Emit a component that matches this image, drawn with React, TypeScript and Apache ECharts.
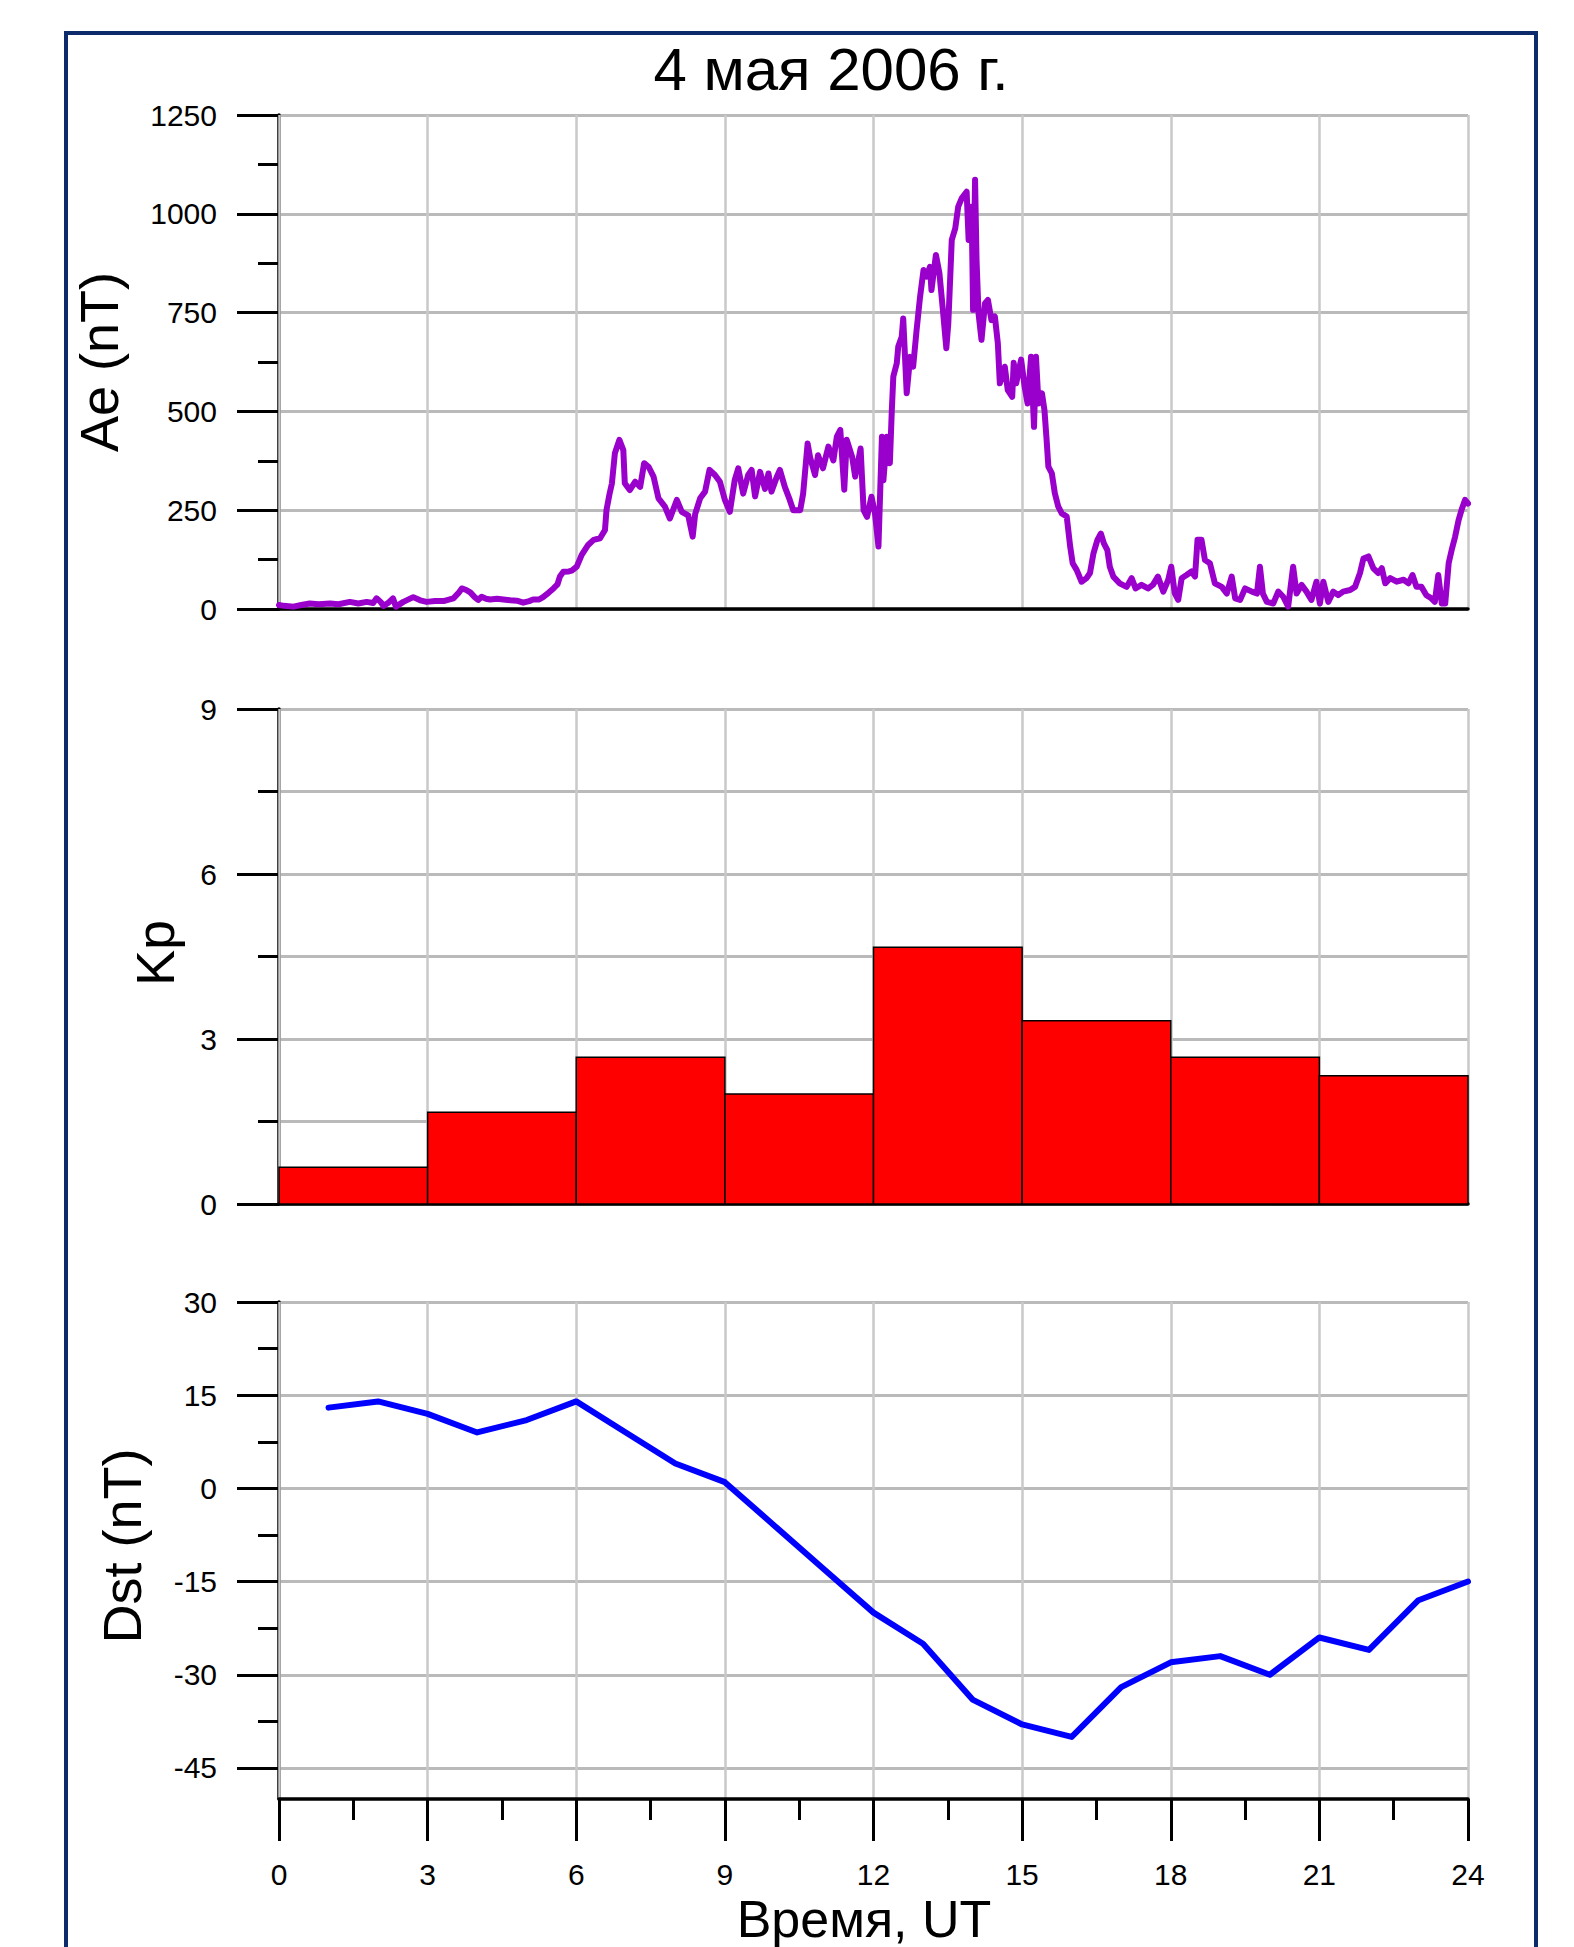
import React, { useEffect, useRef } from "react";
import * as echarts from "echarts";

const TITLE = "4 мая 2006 г.";
const X_NAME = "Время, UT";
const AE_NAME = "Ae (nT)";
const KP_NAME = "Kp";
const DST_NAME = "Dst (nT)";

// Ae index (nT)
const AE_HOURS = [
  0.0, 0.1, 0.29, 0.45, 0.62, 0.8, 1.03, 1.2, 1.43, 1.6, 1.77, 1.9, 1.97, 2.05, 2.11, 2.2, 2.3, 2.36, 2.51, 2.71,
  2.85, 2.98, 3.15, 3.32, 3.52, 3.62, 3.69, 3.78, 3.86, 3.95, 4.02, 4.09, 4.18, 4.26, 4.4, 4.53, 4.67, 4.8, 4.93, 5.05,
  5.13, 5.25, 5.33, 5.44, 5.54, 5.62, 5.67, 5.74, 5.85, 5.91, 6.01, 6.11, 6.24, 6.35, 6.48, 6.58, 6.61, 6.67, 6.72, 6.78,
  6.87, 6.95, 6.98, 7.08, 7.19, 7.29, 7.37, 7.46, 7.56, 7.66, 7.79, 7.89, 8.03, 8.13, 8.26, 8.35, 8.4, 8.5, 8.6, 8.69,
  8.8, 8.9, 9.0, 9.1, 9.2, 9.27, 9.37, 9.47, 9.54, 9.61, 9.71, 9.81, 9.88, 9.94, 10.05, 10.11, 10.21, 10.31, 10.38, 10.52,
  10.58, 10.67, 10.72, 10.82, 10.88, 10.98, 11.09, 11.19, 11.26, 11.33, 11.41, 11.46, 11.57, 11.63, 11.74, 11.8, 11.87, 11.96, 12.03, 12.1,
  12.17, 12.2, 12.27, 12.33, 12.37, 12.4, 12.47, 12.5, 12.57, 12.6, 12.67, 12.74, 12.8, 12.87, 12.94, 13.01, 13.07, 13.14, 13.17, 13.26,
  13.33, 13.4, 13.47, 13.51, 13.58, 13.65, 13.71, 13.78, 13.88, 13.92, 13.98, 14.01, 14.05, 14.08, 14.12, 14.18, 14.25, 14.31, 14.38, 14.45,
  14.51, 14.55, 14.65, 14.71, 14.8, 14.83, 14.88, 14.98, 15.05, 15.11, 15.18, 15.24, 15.28, 15.33, 15.4, 15.45, 15.49, 15.53, 15.6, 15.66,
  15.73, 15.8, 15.9, 15.97, 16.02, 16.1, 16.2, 16.3, 16.37, 16.44, 16.52, 16.59, 16.65, 16.72, 16.77, 16.84, 16.97, 17.11, 17.21, 17.29,
  17.41, 17.54, 17.64, 17.74, 17.85, 17.95, 18.01, 18.08, 18.15, 18.22, 18.32, 18.42, 18.49, 18.54, 18.62, 18.69, 18.79, 18.89, 19.03, 19.13,
  19.23, 19.3, 19.4, 19.5, 19.64, 19.74, 19.8, 19.86, 19.94, 20.07, 20.17, 20.27, 20.37, 20.47, 20.54, 20.64, 20.74, 20.84, 20.94, 21.01,
  21.08, 21.18, 21.28, 21.38, 21.48, 21.62, 21.72, 21.82, 21.89, 21.99, 22.09, 22.19, 22.26, 22.33, 22.43, 22.56, 22.7, 22.8, 22.88, 22.96,
  23.06, 23.16, 23.26, 23.33, 23.4, 23.47, 23.54, 23.61, 23.67, 23.74, 23.81, 23.87, 23.94, 24.0,
];
const AE_NT = [
  10, 8, 6, 10, 14, 12, 14, 12, 18, 14, 18, 15, 27, 18, 8, 15, 27, 6, 18, 30,
  22, 18, 20, 20, 27, 40, 52, 48, 42, 30, 23, 31, 26, 24, 26, 24, 22, 21, 16, 20,
  24, 24, 30, 41, 52, 62, 82, 94, 95, 97, 107, 137, 162, 175, 179, 200, 250, 290, 318, 394,
  428, 402, 318, 301, 322, 309, 369, 360, 335, 280, 259, 229, 276, 246, 237, 183, 240, 280, 297, 352,
  339, 322, 276, 246, 327, 356, 292, 339, 352, 285, 347, 304, 343, 297, 335, 352, 309, 276, 250, 250,
  292, 419, 384, 339, 389, 356, 411, 376, 436, 453, 302, 428, 384, 335, 406, 250, 233, 284, 242, 158,
  436, 326, 436, 369, 504, 588, 622, 664, 689, 735, 546, 638, 613, 706, 790, 858, 841, 866, 807, 896,
  850, 757, 660, 723, 934, 963, 1018, 1039, 1056, 934, 1018, 757, 1086, 883, 748, 681, 773, 782, 731, 740,
  672, 571, 613, 554, 537, 623, 571, 631, 563, 520, 638, 461, 638, 520, 546, 504, 436, 360, 343, 293,
  259, 242, 234, 158, 116, 99, 69, 78, 91, 141, 175, 191, 166, 149, 107, 82, 65, 56, 78, 52,
  61, 52, 61, 82, 44, 74, 107, 40, 23, 78, 86, 95, 82, 175, 175, 124, 116, 65, 56, 39,
  82, 27, 23, 52, 44, 39, 107, 39, 18, 14, 44, 31, 6, 107, 39, 61, 44, 23, 69, 14,
  69, 18, 44, 35, 44, 48, 56, 91, 128, 133, 103, 91, 103, 65, 78, 69, 74, 65, 86, 56,
  56, 35, 27, 18, 86, 14, 14, 116, 149, 183, 225, 251, 276, 267,
];

// Kp index, 3-hour intervals
const KP_START = [0, 3, 6, 9, 12, 15, 18, 21];
const KP_END = [3, 6, 9, 12, 15, 18, 21, 24];
const KP_VALUES = [0.67, 1.67, 2.67, 2.0, 4.67, 3.33, 2.67, 2.33];

// Dst index (nT), hourly
const DST_HOURS = [1, 2, 3, 4, 5, 6, 7, 8, 9, 10, 11, 12, 13, 14, 15, 16, 17, 18, 19, 20, 21, 22, 23, 24];
const DST_NT = [13, 14, 12, 9, 11, 14, 9, 4, 1, -6, -13, -20, -25, -34, -38, -40, -32, -28, -27, -30, -24, -26, -18, -15];

const DST_MAJOR_TICKS = [-45, -30, -15, 0, 15, 30];
const DST_MINOR_TICKS = [-37.5, -22.5, -7.5, 7.5, 22.5];

const FONT = '"Liberation Sans", Arial, Helvetica, sans-serif';

export default function App() {
  const ref = useRef<HTMLDivElement>(null);

  useEffect(() => {
    document.body.style.margin = "0";
    const chart = echarts.init(ref.current as HTMLDivElement, null, { renderer: "svg" });

    const axisLine = { show: true, onZero: false, lineStyle: { color: "#000", width: 3.5 } };
    const tickStyle = { color: "#000", width: 3 };
    const hGrid = { show: true, lineStyle: { color: "#bababa", width: 3 } };
    const vGrid = { show: true, lineStyle: { color: "#c9c9c9", width: 2.5 } };
    const plain = (v: number) => String(v);
    const labelStyle = { color: "#000", fontSize: 30, fontFamily: FONT, formatter: plain };

    const grids = [
      { left: 279, top: 115, width: 1189, height: 494 },
      { left: 279, top: 709, width: 1189, height: 495 },
      { left: 279, top: 1302, width: 1189, height: 497 },
    ];

    const xAxes = [0, 1, 2].map((i) => ({
      type: "value",
      gridIndex: i,
      min: 0,
      max: 24,
      interval: 3,
      axisLine,
      axisTick: { show: i === 2, length: 42, lineStyle: tickStyle },
      minorTick: { show: i === 2, splitNumber: 2, length: 21, lineStyle: tickStyle },
      axisLabel: { show: i === 2, margin: 60, ...labelStyle },
      splitLine: vGrid,
      z: 1,
    }));

    const yAxes: any[] = [
      {
        type: "value",
        gridIndex: 0,
        min: 0,
        max: 1250,
        interval: 250,
        axisLine,
        axisTick: { show: true, length: 42, lineStyle: tickStyle },
        minorTick: { show: true, splitNumber: 2, length: 21, lineStyle: tickStyle },
        axisLabel: { margin: 62, ...labelStyle },
        splitLine: hGrid,
      },
      {
        type: "value",
        gridIndex: 1,
        min: 0,
        max: 9,
        interval: 3,
        axisLine,
        axisTick: { show: true, length: 42, lineStyle: tickStyle },
        minorTick: { show: true, splitNumber: 2, length: 21, lineStyle: tickStyle },
        axisLabel: { margin: 62, ...labelStyle },
        splitLine: hGrid,
        minorSplitLine: { show: true, lineStyle: { color: "#bababa", width: 3 } },
      },
      {
        type: "value",
        gridIndex: 2,
        min: -50,
        max: 30,
        axisLine,
        axisTick: { show: true, length: 42, lineStyle: tickStyle, customValues: DST_MAJOR_TICKS },
        axisLabel: { margin: 62, ...labelStyle, customValues: DST_MAJOR_TICKS },
        splitLine: hGrid,
      },
      {
        type: "value",
        gridIndex: 2,
        min: -50,
        max: 30,
        position: "left",
        axisLine: { show: false },
        axisTick: { show: true, length: 21, lineStyle: tickStyle, customValues: DST_MINOR_TICKS },
        axisLabel: { show: false, customValues: DST_MINOR_TICKS },
        splitLine: { show: false },
      },
    ];

    const option: any = {
      animation: false,
      backgroundColor: "#fff",
      textStyle: { fontFamily: FONT },
      grid: grids,
      xAxis: xAxes,
      yAxis: yAxes,
      series: [
        {
          type: "line",
          xAxisIndex: 0,
          yAxisIndex: 0,
          data: AE_HOURS.map((t, i) => [t, AE_NT[i]]),
          showSymbol: false,
          lineStyle: { color: "#9900cc", width: 6, join: "round", cap: "round" },
          z: 5,
        },
        {
          type: "custom",
          xAxisIndex: 1,
          yAxisIndex: 1,
          data: KP_START.map((s, i) => [s, KP_END[i], KP_VALUES[i]]),
          encode: { x: [0, 1], y: 2 },
          renderItem: (params: any, api: any) => {
            const p0 = api.coord([api.value(0), api.value(2)]);
            const p1 = api.coord([api.value(1), 0]);
            return {
              type: "rect",
              shape: { x: p0[0], y: p0[1], width: p1[0] - p0[0], height: p1[1] - p0[1] },
              style: { fill: "#ff0000", stroke: "#000", lineWidth: 1.5 },
            };
          },
          z: 5,
        },
        {
          type: "line",
          xAxisIndex: 2,
          yAxisIndex: 2,
          data: DST_HOURS.map((t, i) => [t, DST_NT[i]]),
          showSymbol: false,
          lineStyle: { color: "#0000ff", width: 6, join: "round", cap: "round" },
          z: 5,
        },
      ],
      graphic: [
        {
          type: "rect",
          shape: { x: 66, y: 33, width: 1470, height: 2000 },
          style: { fill: "none", stroke: "#0d2b6b", lineWidth: 4 },
          z: 100,
        },
        {
          type: "text",
          x: 831,
          y: 69,
          style: { text: TITLE, font: `60px ${FONT}`, fill: "#000", align: "center", verticalAlign: "middle" },
        },
        {
          type: "text",
          x: 99,
          y: 362,
          rotation: Math.PI / 2,
          style: { text: AE_NAME, font: `54px ${FONT}`, fill: "#000", align: "center", verticalAlign: "middle" },
        },
        {
          type: "text",
          x: 155,
          y: 953,
          rotation: Math.PI / 2,
          style: { text: KP_NAME, font: `54px ${FONT}`, fill: "#000", align: "center", verticalAlign: "middle" },
        },
        {
          type: "text",
          x: 122,
          y: 1546,
          rotation: Math.PI / 2,
          style: { text: DST_NAME, font: `54px ${FONT}`, fill: "#000", align: "center", verticalAlign: "middle" },
        },
        {
          type: "text",
          x: 864,
          y: 1919,
          style: { text: X_NAME, font: `52px ${FONT}`, fill: "#000", align: "center", verticalAlign: "middle" },
        },
      ],
    };

    chart.setOption(option);
    return () => chart.dispose();
  }, []);

  return <div ref={ref} style={{ width: 1574, height: 1947 }} />;
}
